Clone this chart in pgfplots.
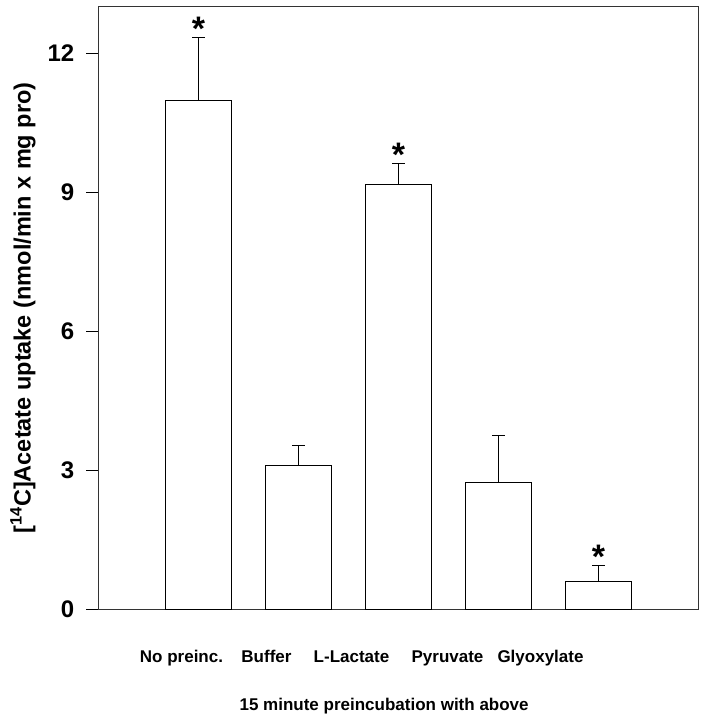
\documentclass[border=0pt]{standalone}
\usepackage{pgfplots}
\pgfplotsset{compat=1.18}
\usepackage{fontspec}
\setmainfont{Liberation Sans}

\begin{document}
\begin{tikzpicture}
\begin{axis}[
name=ax,
scale only axis,
width=600pt, height=602pt,
xmin=0, xmax=6,
ymin=0, ymax=13,
ytick={0,3,6,9,12},
xtick={0.83,1.68,2.53,3.49,4.42},
xticklabels={No preinc., Buffer, L-Lactate, Pyruvate, Glyoxylate},
tick align=outside,
ytick pos=left,
xtick pos=bottom,
major tick length=12pt,
x tick style={draw=none},
y tick style={line width=0.9pt, black},
axis line style={line width=1pt, black!80},
/pgf/number format/assume math mode=true,
yticklabel style={font=\fontsize{24}{28}\selectfont\bfseries, inner sep=0pt, anchor=east, xshift=-12pt},
xticklabel style={font=\fontsize{17}{20}\selectfont\bfseries, inner sep=0pt, anchor=base, yshift=-41pt},
xlabel={15 minute preincubation with above},
xlabel style={at={(axis description cs:0.476,0)}, anchor=base, inner sep=0pt, yshift=-101pt,
  font=\fontsize{17}{20}\selectfont\bfseries},
ylabel={[\textsuperscript{14}C]Acetate uptake (nmol/min x mg pro)},
ylabel style={at={(axis description cs:-0.1475,0.5)}, anchor=north, inner sep=0pt,
  font=\fontsize{23.5}{27}\selectfont\bfseries},
clip=false,
]

% bars with upper error bars (mean + SE)
\addplot[ybar, bar width=0.667, fill=white, draw=black, line width=0.9pt,
  error bars/.cd, y dir=plus, y explicit,
  error bar style={line width=0.9pt, black},
  error mark options={rotate=90, mark size=6.5pt, line width=0.9pt, black}]
coordinates {
(1,10.99) +- (0,1.35)
(2,3.11) +- (0,0.42)
(3,9.16) +- (0,0.46)
(4,2.73) +- (0,1.02)
(5,0.59) +- (0,0.34)
};

% significance marks above the error bars
\addplot[draw=none, mark=none, nodes near coords={*},
  every node near coord/.style={font=\fontsize{34}{34}\selectfont\bfseries, anchor=base, inner sep=0pt, yshift=-3pt}]
coordinates {
(1,12.34)
(3,9.62)
(5,0.93)
};

\end{axis}
\path ([xshift=-98.5pt,yshift=-110pt]ax.south west) rectangle ([xshift=5.5pt,yshift=7pt]ax.north east);
\end{tikzpicture}
\end{document}
